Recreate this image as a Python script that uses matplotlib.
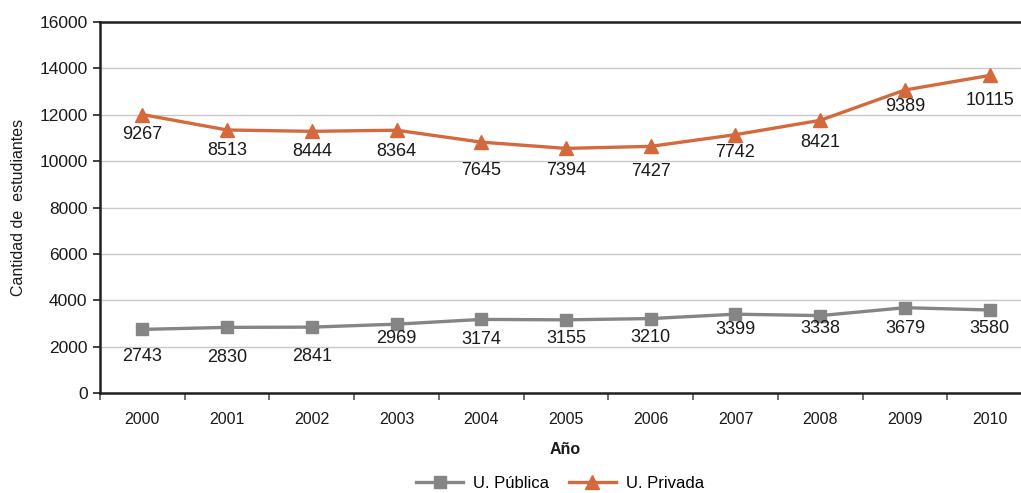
import matplotlib
matplotlib.use("Agg")
import matplotlib.pyplot as plt
import numpy as np

years = ["2000", "2001", "2002", "2003", "2004", "2005", "2006", "2007", "2008", "2009", "2010"]
publica = [2743, 2830, 2841, 2969, 3174, 3155, 3210, 3399, 3338, 3679, 3580]
privada = [9267, 8513, 8444, 8364, 7645, 7394, 7427, 7742, 8421, 9389, 10115]

# label offsets below markers (pixels) - layout only
pub_dy = [27, 30, 29, 14, 20, 19, 19, 15, 13, 21, 19]
priv_dy = [20, 21, 20, 21, 28, 22, 25, 18, 22, 17, 25]

plt.rcParams['font.family'] = ['Liberation Sans', 'DejaVu Sans']

W, H = 1021, 493
fig = plt.figure(figsize=(W / 100, H / 100), dpi=100)
ax = fig.add_axes([100 / W, 100 / H, 932 / W, 371 / H])

x = np.arange(len(years))
pub = np.array(publica)
stacked = pub + np.array(privada)

gray = '#858585'
orange = '#D4693E'

ax.plot(x, pub, color=gray, lw=2.4, marker='s', ms=8, mec=gray, mfc=gray, label='U. Pública', zorder=3)
ax.plot(x, stacked, color=orange, lw=2.4, marker='^', ms=10, mec=orange, mfc=orange, label='U. Privada', zorder=3)

for i in range(len(years)):
    ax.annotate(str(publica[i]), (x[i], pub[i]), xytext=(0, -pub_dy[i]), textcoords='offset pixels',
                ha='center', va='center', fontsize=13, color='#1a1a1a')
    ax.annotate(str(privada[i]), (x[i], stacked[i]), xytext=(0, -priv_dy[i]), textcoords='offset pixels',
                ha='center', va='center', fontsize=13, color='#1a1a1a')

ax.set_xlim(-0.5, len(years) - 0.5)
ax.set_ylim(0, 16000)
ax.set_yticks(np.arange(0, 16001, 2000))
ax.set_yticklabels([str(v) for v in range(0, 16001, 2000)], fontsize=12.5, color='#1a1a1a')
ax.set_xticks(x)
ax.set_xticklabels(years, fontsize=11.5, color='#1a1a1a')
ax.set_xticks(np.arange(-0.5, len(years), 1), minor=True)
ax.tick_params(axis='x', which='major', length=0, pad=14)
ax.tick_params(axis='x', which='minor', length=5, width=1.2, color='#555555', direction='out')
ax.tick_params(axis='y', length=5, width=1.2, color='#231F20', direction='out', pad=4)

ax.yaxis.grid(True, color='#C8C8C8', lw=1)
ax.set_axisbelow(True)

for s in ['left', 'bottom', 'top']:
    ax.spines[s].set_color('#231F20')
    ax.spines[s].set_linewidth(1.8)
ax.spines['right'].set_visible(False)

ax.set_xlabel('Año', fontsize=11.5, fontweight='bold', color='#1a1a1a')
ax.set_ylabel('Cantidad de  estudiantes', fontsize=11.5, color='#1a1a1a')
ax.xaxis.set_label_coords((565 - 100) / 932, -0.132)
ax.yaxis.set_label_coords(-(100 - 26) / 932, 0.5)

fig.legend(loc='center', bbox_to_anchor=(560 / W, 1 - 483 / H), ncol=2, frameon=False,
           fontsize=12, handlelength=2.8, columnspacing=1.2, handletextpad=0.6)

fig.savefig('out.png', dpi=100)
